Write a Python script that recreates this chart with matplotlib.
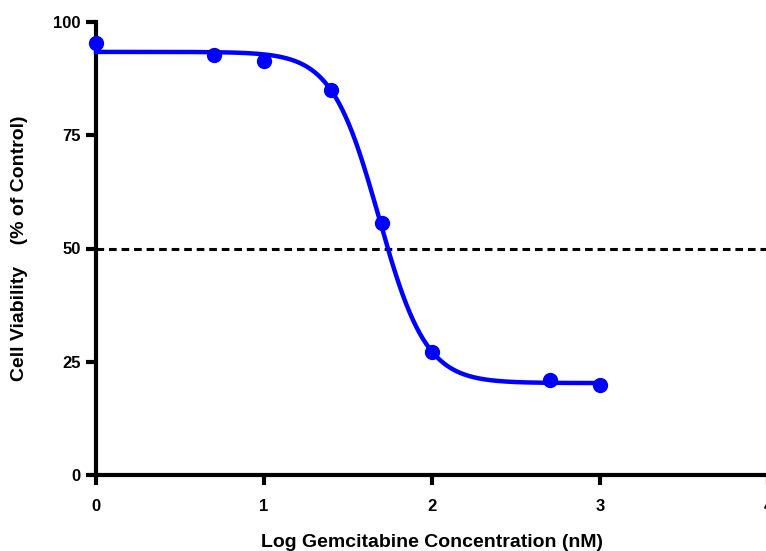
"""Dose-response curve for gemcitabine"""

import numpy as np
import matplotlib.pyplot as plt

log_conc = [0.0, 0.7, 1.0, 1.4, 1.7, 2.0, 2.7, 3.0]
viability = [95.3, 92.8, 91.5, 85.0, 55.6, 27.2, 21.0, 19.9]

# 4-parameter logistic fit
fit_top = 93.4
fit_bottom = 20.3
fit_log_ic50 = 1.684
fit_hill = 3.1

plt.rcParams["font.family"] = ["Liberation Sans", "DejaVu Sans"]
plt.rcParams["font.weight"] = "bold"

fig = plt.figure(figsize=(7.66, 5.51), dpi=100)
ax = fig.add_axes([96 / 766, 1 - 475 / 551, 672 / 766, 453 / 551])

xs = np.linspace(min(log_conc), max(log_conc), 300)
ys = fit_bottom + (fit_top - fit_bottom) / (1 + 10 ** ((xs - fit_log_ic50) * fit_hill))
ax.plot(xs, ys, color="#0000ff", lw=3.2, zorder=3, clip_on=False)
ax.plot(log_conc, viability, "o", color="#0000ff", ms=10, zorder=4, clip_on=False)

ax.axhline(50, color="black", lw=2.2, linestyle=(0, (2.5, 1.6)), zorder=2)

ax.set_xlim(0, 4)
ax.set_ylim(0, 100)
ax.set_xticks([0, 1, 2, 3, 4])
ax.set_yticks([0, 25, 50, 75, 100])

for side in ["top", "right"]:
    ax.spines[side].set_visible(False)
for side in ["left", "bottom"]:
    ax.spines[side].set_linewidth(3)

ax.tick_params(width=3, length=7, labelsize=12, pad=4)
for lbl in ax.get_xticklabels() + ax.get_yticklabels():
    lbl.set_fontweight("bold")
ax.tick_params(axis="x", pad=10)

ax.set_xlabel("Log Gemcitabine Concentration (nM)", fontsize=14,
              fontweight="bold", labelpad=15)
ax.set_ylabel("Cell Viability    (% of Control)", fontsize=14,
              fontweight="bold", labelpad=18)

plt.savefig("out.png", dpi=100, facecolor="w")
